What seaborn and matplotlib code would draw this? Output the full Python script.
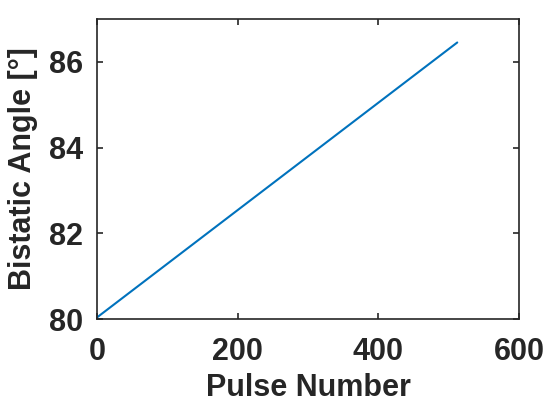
import matplotlib
matplotlib.use("Agg")
import matplotlib.pyplot as plt
import seaborn as sns
import pandas as pd

pulse = [1, 512]
angle = [80.05, 86.45]
x_ticks = [0, 200, 400, 600]
y_ticks = [80, 82, 84, 86]

sns.set_theme(style="white")
plt.rcParams['font.family'] = ['Liberation Sans', 'DejaVu Sans']

df = pd.DataFrame({"Pulse Number": pulse, "Bistatic Angle": angle})

fig = plt.figure(figsize=(5.5, 4.2), dpi=100)
ax = fig.add_axes([0.176, 0.240, 0.768, 0.715])
sns.lineplot(data=df, x="Pulse Number", y="Bistatic Angle", ax=ax,
             color="#0072BD", linewidth=1.5)
ax.set_xlim(0, 600)
ax.set_ylim(80, 87)
ax.set_xticks(x_ticks)
ax.set_yticks(y_ticks)
ax.set_xticklabels([str(v) for v in x_ticks], fontsize=22, fontweight="bold", color="#262626")
ax.set_yticklabels([str(v) for v in y_ticks], fontsize=22, fontweight="bold", color="#262626")
ax.set_xlabel("Pulse Number", fontsize=22, fontweight="bold", color="#262626", labelpad=4)
ax.set_ylabel("Bistatic Angle [°]", fontsize=22, fontweight="bold", color="#262626", labelpad=8)
ax.tick_params(direction="in", length=4, width=1.2, top=True, right=True,
               bottom=True, left=True, color="#262626")
ax.tick_params(axis="x", pad=13)
ax.tick_params(axis="y", pad=10)
for s in ax.spines.values():
    s.set_visible(True)
    s.set_linewidth(1.2)
    s.set_color("#262626")
fig.savefig("out.png", dpi=100)
